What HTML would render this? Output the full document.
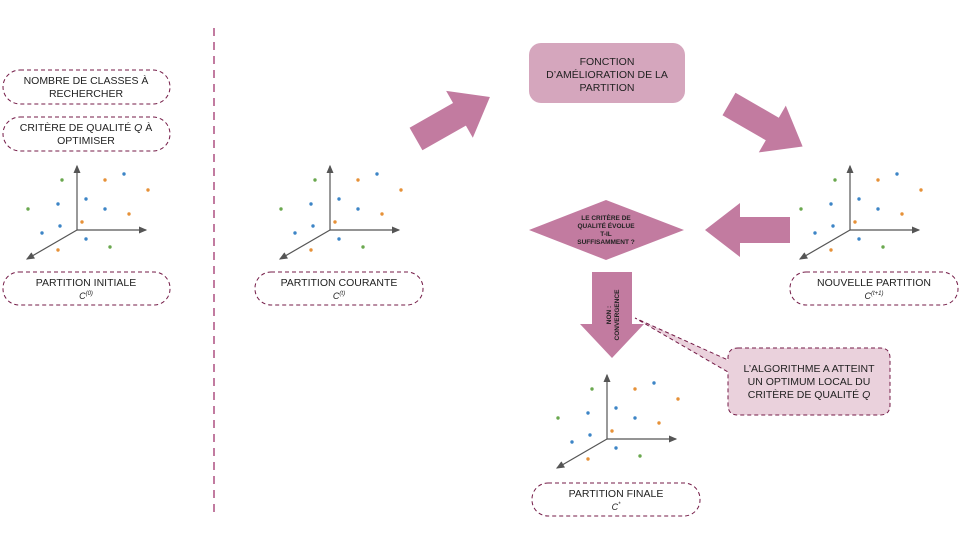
<!DOCTYPE html>
<html><head><meta charset="utf-8"><style>
body{margin:0;background:#fff}
svg{display:block}
text{font-family:"Liberation Sans",sans-serif;fill:#222}
</style></head><body>
<svg width="960" height="540" viewBox="0 0 960 540" xmlns="http://www.w3.org/2000/svg">
<defs>
<marker id="ah" markerWidth="8" markerHeight="8" refX="6" refY="3" orient="auto"><path d="M0,0 L7,3 L0,6 z" fill="#555"/></marker>
<g id="plot">
<line x1="77" y1="230" x2="77" y2="166" stroke="#555" stroke-width="1.2" marker-end="url(#ah)"/>
<line x1="77" y1="230" x2="146" y2="230" stroke="#555" stroke-width="1.2" marker-end="url(#ah)"/>
<line x1="77" y1="230" x2="27" y2="259" stroke="#555" stroke-width="1.2" marker-end="url(#ah)"/>
<g r="1.6">
<circle cx="62" cy="180" r="1.7" fill="#6aa84f"/><circle cx="105" cy="180" r="1.7" fill="#e69138"/>
<circle cx="124" cy="174" r="1.7" fill="#3d85c6"/><circle cx="148" cy="190" r="1.7" fill="#e69138"/>
<circle cx="28" cy="209" r="1.7" fill="#6aa84f"/><circle cx="58" cy="204" r="1.7" fill="#3d85c6"/>
<circle cx="86" cy="199" r="1.7" fill="#3d85c6"/><circle cx="105" cy="209" r="1.7" fill="#3d85c6"/>
<circle cx="129" cy="214" r="1.7" fill="#e69138"/><circle cx="60" cy="226" r="1.7" fill="#3d85c6"/>
<circle cx="82" cy="222" r="1.7" fill="#e69138"/><circle cx="42" cy="233" r="1.7" fill="#3d85c6"/>
<circle cx="86" cy="239" r="1.7" fill="#3d85c6"/><circle cx="58" cy="250" r="1.7" fill="#e69138"/>
<circle cx="110" cy="247" r="1.7" fill="#6aa84f"/>
</g>
</g>
<g id="arr"><polygon points="0,-13 50,-13 50,-27 85,0 50,27 50,13 0,13" fill="#c27ba0"/></g>
</defs>

<line x1="214" y1="28" x2="214" y2="512" stroke="#c27ba0" stroke-width="2" stroke-dasharray="8,6"/>

<g fill="none" stroke="#741b47" stroke-width="1" stroke-dasharray="4,3">
<rect x="3" y="70" width="167" height="34" rx="17"/>
<rect x="3" y="117" width="167" height="34" rx="17"/>
<rect x="3" y="272" width="167" height="33" rx="16"/>
<rect x="255" y="272" width="168" height="33" rx="16"/>
<rect x="790" y="272" width="168" height="33" rx="16"/>
<rect x="532" y="483" width="168" height="33" rx="16"/>
</g>
<g font-size="10.5" text-anchor="middle">
<text x="86" y="84">NOMBRE DE CLASSES À</text><text x="86" y="97">RECHERCHER</text>
<text x="86" y="131">CRITÈRE DE QUALITÉ <tspan font-style="italic">Q</tspan> À</text><text x="86" y="144">OPTIMISER</text>
<text x="86" y="286">PARTITION INITIALE</text><text x="86" y="299" font-style="italic" font-size="9">C<tspan font-size="6" dy="-4">(0)</tspan></text>
<text x="339" y="286">PARTITION COURANTE</text><text x="339" y="299" font-style="italic" font-size="9">C<tspan font-size="6" dy="-4">(t)</tspan></text>
<text x="874" y="286">NOUVELLE PARTITION</text><text x="874" y="299" font-style="italic" font-size="9">C<tspan font-size="6" dy="-4">(t+1)</tspan></text>
<text x="616" y="497">PARTITION FINALE</text><text x="616" y="510" font-style="italic" font-size="9">C<tspan font-size="6" dy="-4">*</tspan></text>
</g>

<use href="#plot"/>
<use href="#plot" transform="translate(253,0)"/>
<use href="#plot" transform="translate(773,0)"/>
<use href="#plot" transform="translate(530,209)"/>

<rect x="529" y="43" width="156" height="60" rx="12" fill="#d5a6bd"/>
<g font-size="10.5" text-anchor="middle"><text x="607" y="65">FONCTION</text><text x="607" y="78">D’AMÉLIORATION DE LA</text><text x="607" y="91">PARTITION</text></g>

<use href="#arr" transform="translate(416,139) rotate(-29.6)"/>
<use href="#arr" transform="translate(729,104) rotate(30)"/>
<use href="#arr" transform="translate(790,230) rotate(180)"/>
<g transform="translate(612,272) rotate(90)"><polygon points="0,-20 52,-20 52,-32 86,0 52,32 52,20 0,20" fill="#c27ba0"/></g>
<text transform="translate(614,315) rotate(-90)" font-size="6.5" font-weight="bold" text-anchor="middle" style="fill:#222"><tspan x="0" y="-3">NON :</tspan><tspan x="0" y="5">CONVERGENCE</tspan></text>

<polygon points="529,230 606,200 684,230 606,260" fill="#c27ba0"/>
<g font-size="6.5" font-weight="bold" text-anchor="middle"><text x="606" y="220">LE CRITÈRE DE</text><text x="606" y="228">QUALITÉ ÉVOLUE</text><text x="606" y="236">T-IL</text><text x="606" y="244">SUFFISAMMENT ?</text></g>

<path d="M738,348 L880,348 Q890,348 890,358 L890,405 Q890,415 880,415 L738,415 Q728,415 728,405 L728,372 L635,318 L728,360 L728,358 Q728,348 738,348 Z" fill="#ead1dc" stroke="#741b47" stroke-width="1" stroke-dasharray="4,3"/>
<g font-size="10.5" text-anchor="middle"><text x="809" y="372">L’ALGORITHME A ATTEINT</text><text x="809" y="385">UN OPTIMUM LOCAL DU</text><text x="809" y="398">CRITÈRE DE QUALITÉ <tspan font-style="italic">Q</tspan></text></g>
</svg>
</body></html>
